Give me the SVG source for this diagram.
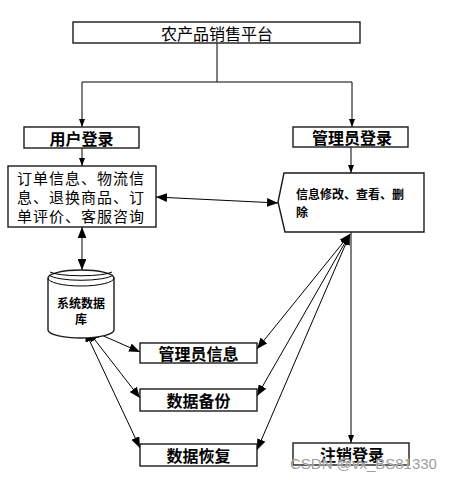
<svg xmlns="http://www.w3.org/2000/svg" width="456" height="480" viewBox="0 0 456 480">
<style>
.box{fill:#fff;stroke:#1a1a1a;stroke-width:1.4}
.ln{fill:none;stroke:#000;stroke-width:1}
.t{font-family:"Noto Sans CJK SC","Liberation Sans",sans-serif;fill:#000;dominant-baseline:central}
.n{font-size:16px;font-weight:normal}
.m{font-size:15px;font-weight:normal;letter-spacing:1px}
.b{font-size:16px;font-weight:bold}
.s{font-size:12px;font-weight:bold}
</style>
<defs>
<marker id="ah" viewBox="0 0 10 8" refX="10" refY="4" markerWidth="11" markerHeight="8.8" markerUnits="userSpaceOnUse" orient="auto-start-reverse">
<path d="M0,0 L10,4 L0,8 z" fill="#000"/>
</marker>
<marker id="sa" viewBox="0 0 8 6" refX="8" refY="3" markerWidth="8" markerHeight="6" markerUnits="userSpaceOnUse" orient="auto">
<path d="M0,0 L8,3 L0,6 z" fill="#000"/>
</marker>
</defs>
<g id="connectors">
<path class="ln" d="M217,43 V82"/>
<path class="ln" d="M82,82 H352"/>
<path class="ln" d="M82,82 V127" marker-end="url(#sa)"/>
<path class="ln" d="M352,82 V127" marker-end="url(#sa)"/>
<path class="ln" d="M82,148 V166" marker-end="url(#sa)"/>
<path class="ln" d="M351,147 V173" marker-end="url(#sa)"/>
<path class="ln" d="M156,197 L278,203" marker-start="url(#ah)" marker-end="url(#ah)"/>
<path class="ln" d="M82,227 V270" marker-start="url(#ah)" marker-end="url(#ah)"/>
<path class="ln" d="M90,330 L140,352" marker-start="url(#ah)" marker-end="url(#ah)"/>
<path class="ln" d="M88,331 L140,398" marker-start="url(#ah)" marker-end="url(#ah)"/>
<path class="ln" d="M85,331 L140,448" marker-start="url(#ah)" marker-end="url(#ah)"/>
<path class="ln" d="M350,234 L257,349" marker-start="url(#ah)" marker-end="url(#ah)"/>
<path class="ln" d="M350,234 L257,396" marker-start="url(#ah)" marker-end="url(#ah)"/>
<path class="ln" d="M350,234 L257,450" marker-start="url(#ah)" marker-end="url(#ah)"/>
<path class="ln" d="M351,232 V443" marker-end="url(#sa)"/>
</g>
<g id="platform">
<rect class="box" x="73" y="22" width="287" height="21"/>
<text class="t n" x="217" y="32.5" text-anchor="middle">农产品销售平台</text>
</g>
<g id="user-login">
<rect class="box" x="24" y="127" width="115" height="21"/>
<text class="t b" x="81.5" y="137.5" text-anchor="middle">用户登录</text>
</g>
<g id="admin-login">
<rect class="box" x="293" y="127" width="115" height="20"/>
<text class="t b" x="352" y="137" text-anchor="middle">管理员登录</text>
</g>
<g id="user-functions">
<rect class="box" x="8" y="166" width="148" height="61"/>
<text class="t m" x="17" y="177">订单信息、物流信</text>
<text class="t m" x="17" y="196">息、退换商品、订</text>
<text class="t m" x="17" y="215">单评价、客服咨询</text>
</g>
<g id="admin-functions">
<path class="box" d="M284,173 H424 V232 H285 L278,202 Z"/>
<text class="t s" x="296" y="193">信息修改、查看、删</text>
<text class="t s" x="296" y="211">除</text>
</g>
<g id="database">
<path class="box" d="M48,278 A33,8 0 0 1 114,278 V330 A33,8 0 0 1 48,330 Z"/>
<path class="ln" d="M48,278 A33,8 0 0 0 114,278"/>
<path class="ln" d="M49,275 A33,7 0 0 0 113,275" stroke-width="0.8"/>
<path class="ln" d="M50,272 A32,5 0 0 0 112,272" stroke-width="0.8"/>
<text class="t s" x="81" y="302" text-anchor="middle" font-size="13px">系统数据</text>
<text class="t s" x="81" y="318" text-anchor="middle" font-size="13px">库</text>
</g>
<g id="admin-info">
<rect class="box" x="140" y="343" width="117" height="20"/>
<text class="t b" x="198.5" y="353" text-anchor="middle">管理员信息</text>
</g>
<g id="backup">
<rect class="box" x="140" y="389" width="117" height="22"/>
<text class="t b" x="198.5" y="400" text-anchor="middle">数据备份</text>
</g>
<g id="restore">
<rect class="box" x="140" y="444" width="117" height="22"/>
<text class="t b" x="198.5" y="455" text-anchor="middle">数据恢复</text>
</g>
<g id="logout">
<rect class="box" x="293" y="443" width="116" height="22"/>
<text class="t b" x="352" y="454" text-anchor="middle">注销登录</text>
</g>
<text x="290" y="469" font-family="Liberation Sans, Arial, sans-serif" font-size="15" fill="#8a8a8a" fill-opacity="0.85" stroke="#fff" stroke-width="0.6" paint-order="stroke">CSDN @vx_BS81330</text>
</svg>
